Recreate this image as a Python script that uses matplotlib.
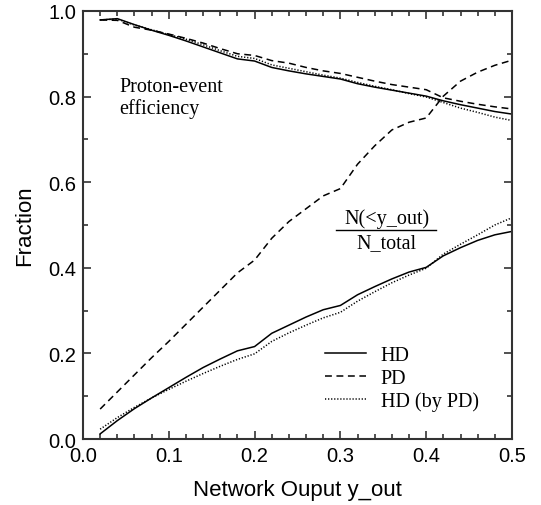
import matplotlib
matplotlib.use("Agg")
import matplotlib.pyplot as plt
import numpy as np
from matplotlib.ticker import MultipleLocator

# network output bins
y_out = [0.02, 0.04, 0.06, 0.08, 0.10, 0.12, 0.14, 0.16, 0.18, 0.20,
         0.22, 0.24, 0.26, 0.28, 0.30, 0.32, 0.34, 0.36, 0.38, 0.40,
         0.42, 0.44, 0.46, 0.48, 0.50]

# proton-event efficiency
eff_hd = [0.979, 0.982, 0.968, 0.955, 0.943, 0.930, 0.916, 0.902, 0.888, 0.883,
          0.868, 0.860, 0.853, 0.847, 0.841, 0.830, 0.822, 0.815, 0.808, 0.801,
          0.790, 0.781, 0.773, 0.765, 0.759]
eff_pd = [0.979, 0.978, 0.962, 0.955, 0.946, 0.936, 0.925, 0.912, 0.900, 0.896,
          0.884, 0.878, 0.868, 0.860, 0.854, 0.845, 0.836, 0.828, 0.822, 0.816,
          0.797, 0.789, 0.782, 0.776, 0.771]
eff_hd_by_pd = [0.979, 0.981, 0.967, 0.956, 0.945, 0.934, 0.921, 0.907, 0.894, 0.889,
                0.874, 0.866, 0.858, 0.850, 0.843, 0.833, 0.824, 0.816, 0.807, 0.799,
                0.786, 0.773, 0.763, 0.752, 0.744]

# N(<y_out) / N_total
frac_hd = [0.012, 0.043, 0.071, 0.096, 0.120, 0.144, 0.167, 0.187, 0.206, 0.216,
           0.247, 0.266, 0.285, 0.302, 0.312, 0.337, 0.356, 0.374, 0.390, 0.401,
           0.428, 0.447, 0.464, 0.477, 0.485]
frac_pd = [0.070, 0.110, 0.150, 0.190, 0.228, 0.268, 0.308, 0.348, 0.388, 0.418,
           0.469, 0.508, 0.538, 0.568, 0.585, 0.642, 0.685, 0.722, 0.740, 0.750,
           0.801, 0.836, 0.857, 0.873, 0.885]
frac_hd_by_pd = [0.023, 0.050, 0.074, 0.096, 0.116, 0.135, 0.153, 0.170, 0.186, 0.199,
                 0.228, 0.248, 0.266, 0.283, 0.296, 0.322, 0.344, 0.365, 0.383, 0.399,
                 0.432, 0.455, 0.477, 0.500, 0.517]

labels = ["HD", "PD", "HD (by PD)"]

plt.rcParams['font.family'] = ['Liberation Sans', 'DejaVu Sans']
serif = ['Liberation Serif', 'DejaVu Serif']

fig = plt.figure(figsize=(5.41, 5.06), dpi=100)
ax = fig.add_axes([0.1534, 0.1304, 0.793, 0.846])

lw = 1.1
dash = (0, (4.5, 3))
dot = (0, (0.8, 1.2))
ax.plot(y_out, eff_hd, color='black', lw=lw, linestyle='-', label=labels[0])
ax.plot(y_out, eff_pd, color='black', lw=lw, linestyle=dash, label=labels[1])
ax.plot(y_out, eff_hd_by_pd, color='black', lw=lw, linestyle=dot, label=labels[2])
ax.plot(y_out, frac_hd, color='black', lw=lw, linestyle='-')
ax.plot(y_out, frac_pd, color='black', lw=lw, linestyle=dash)
ax.plot(y_out, frac_hd_by_pd, color='black', lw=lw, linestyle=dot)

ax.set_xlim(0, 0.5)
ax.set_ylim(0, 1.0)
ax.xaxis.set_major_locator(MultipleLocator(0.1))
ax.xaxis.set_minor_locator(MultipleLocator(0.02))
ax.yaxis.set_major_locator(MultipleLocator(0.2))
ax.yaxis.set_minor_locator(MultipleLocator(0.1))
ax.tick_params(which='both', direction='in', top=True, right=True,
               width=1.2, color='#333333', labelsize=14.5)
ax.tick_params(which='major', length=6, pad=5)
ax.tick_params(which='minor', length=3.5)
for s in ax.spines.values():
    s.set_linewidth(1.5)
    s.set_color('#333333')

ax.set_xlabel("Network Ouput y_out", fontsize=16, labelpad=10)
ax.set_ylabel("Fraction", fontsize=16, labelpad=9)

ax.text(0.042, 0.845, "Proton-event\nefficiency", family=serif, fontsize=14.5,
        va='top', ha='left', linespacing=1.1)

ax.text(0.354, 0.494, "N(<y_out)", family=serif, fontsize=14.5, ha='center', va='bottom')
ax.text(0.354, 0.482, "N_total", family=serif, fontsize=14.5, ha='center', va='top')
ax.plot([0.295, 0.412], [0.488, 0.488], color='black', lw=1.0)

leg = ax.legend(loc='upper left', bbox_to_anchor=(0.565, 0.217), frameon=False,
                prop={'family': serif, 'size': 14.5}, handlelength=2.0,
                handletextpad=0.75, labelspacing=0.17, borderpad=0, borderaxespad=0)

fig.savefig("out.png", dpi=100)
